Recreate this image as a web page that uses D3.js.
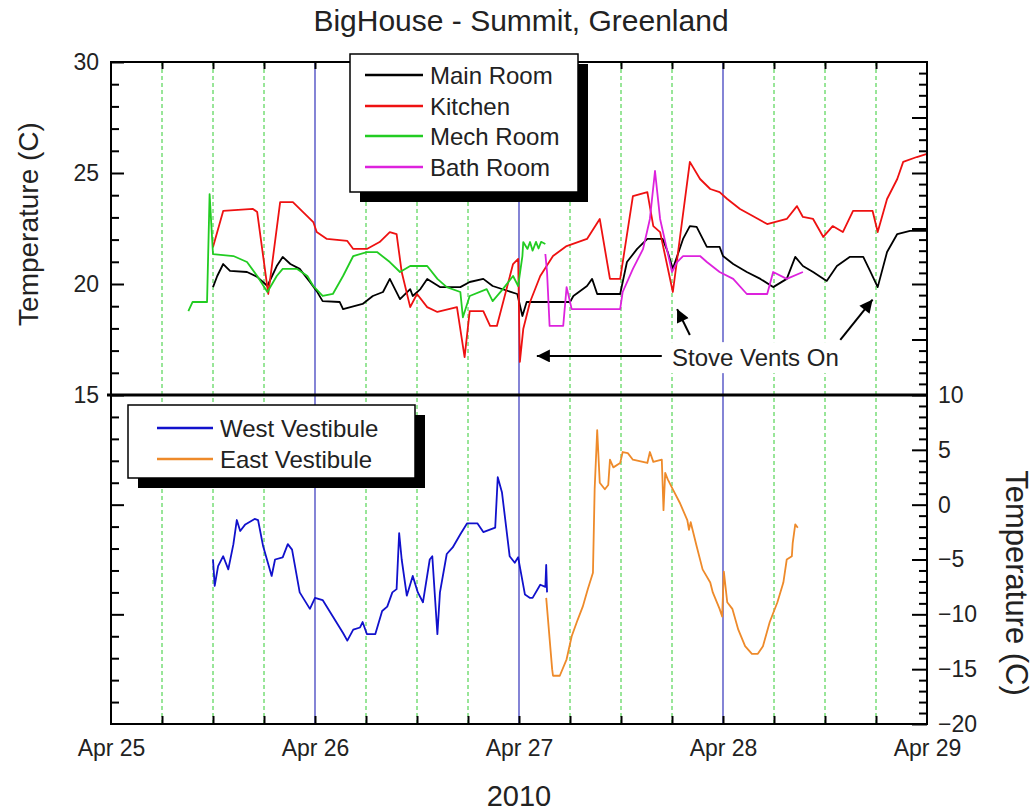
<!DOCTYPE html>
<html><head><meta charset="utf-8">
<script src="https://cdn.jsdelivr.net/npm/d3@7/dist/d3.min.js"></script>
<style>
body{margin:0;background:#fff;}
svg{display:block;font-family:"Liberation Sans",Arial,sans-serif;}
</style></head>
<body><svg id="chart" width="1033" height="811"></svg>
<script>
// ---------- DATA (hours since Apr 25 2010 00:00, temperature °C) ----------
const mainHours = [12.0,12.5,13.2,14.0,16.0,17.2,18.4,19.5,20.2,21.1,22.2,23.4,24.2,24.9,26.9,27.3,29.6,30.8,32.0,32.8,34.0,35.2,35.5,36.4,37.2,38.7,41.1,42.2,43.8,44.9,47.8,48.4,48.9,54.0,54.4,56.0,56.6,57.2,59.9,60.7,61.9,63.1,64.9,65.5,66.1,67.3,68.1,68.9,70.1,71.6,72.0,73.2,74.8,76.4,77.9,79.5,80.5,81.4,82.6,84.2,85.4,86.9,88.5,89.3,90.2,91.3,92.5,94.0,96.0];
const mainTemp  = [19.86,20.36,20.9,20.59,20.54,20.32,19.91,20.81,21.22,20.9,20.68,20.09,19.68,19.23,19.19,18.87,19.1,19.46,19.64,20.23,19.32,19.77,19.46,19.77,20.23,19.86,19.86,20.09,20.23,19.91,19.55,18.56,19.19,19.19,19.46,19.91,20.23,19.55,19.55,20.99,21.58,22.03,22.03,21.44,20.68,22.03,22.61,22.57,21.67,21.67,21.26,20.9,20.54,20.23,19.86,20.23,21.22,20.81,20.54,20.14,20.81,21.22,21.22,20.59,19.86,21.44,22.25,22.39,22.39];

const kitchenHours = [12.0,13.2,16.7,17.2,18.5,19.9,21.4,22.6,23.8,24.2,25.4,27.8,28.5,30.1,31.6,32.8,33.6,34.2,35.2,36.0,37.2,38.4,40.7,41.6,42.2,43.8,44.6,45.4,47.3,47.9,48.1,48.5,49.3,50.5,52.0,53.6,56.0,57.5,58.7,59.9,61.4,63.1,63.8,64.6,66.1,68.1,69.3,70.5,71.6,72.5,74.0,75.5,77.2,79.5,80.7,81.4,82.6,83.8,84.9,86.1,87.3,89.6,90.2,91.3,92.5,93.2,94.8,96.0];
const kitchenTemp  = [21.67,23.29,23.38,23.24,19.55,23.69,23.69,23.24,22.79,22.34,22.03,21.94,21.58,21.58,21.89,22.34,22.25,20.54,18.96,19.55,18.96,18.74,18.96,16.71,18.78,18.78,18.11,18.11,20.9,21.13,16.49,17.97,19.19,20.36,21.26,21.71,22.03,22.93,20.23,20.23,23.96,24.14,22.61,22.34,19.64,25.5,24.73,24.28,24.14,23.83,23.38,23.06,22.7,22.93,23.51,23.02,22.93,22.12,22.61,22.34,23.29,23.29,22.34,23.83,24.73,25.5,25.72,25.86];

const mechHours = [9.1,9.6,11.3,11.6,12.0,14.4,16.0,17.2,18.4,19.5,20.2,21.9,23.1,23.8,24.9,26.1,27.3,28.5,30.1,31.3,32.8,34.0,35.2,37.2,38.4,39.5,41.1,41.4,42.2,44.2,44.9,46.1,47.3,47.9,48.4,48.5,49.0,49.3,49.6,50.0,50.3,50.6,51.1];
const mechTemp  = [18.78,19.19,19.19,24.05,21.35,21.26,20.99,20.36,19.64,20.36,20.68,20.68,20.36,19.91,19.46,19.55,20.36,21.26,21.44,21.44,20.99,20.54,20.81,20.81,20.23,19.86,19.64,18.5,19.46,19.77,19.23,19.77,20.36,19.91,21.26,21.89,21.58,21.89,21.5,21.9,21.6,21.9,21.8];

const bathHours = [51.1,51.3,51.6,53.2,53.6,54.2,59.9,60.2,61.4,62.6,63.4,64.0,64.6,66.0,66.6,67.3,69.3,70.1,71.6,73.2,74.8,77.2,77.9,79.5,81.4];
const bathTemp  = [21.35,20.54,18.11,18.11,19.86,18.87,18.87,19.64,20.68,21.58,22.93,25.09,22.93,20.54,20.99,21.26,21.26,20.99,20.54,20.23,19.55,19.55,20.54,20.23,20.54];

const westHours = [12.0,12.2,12.6,13.2,13.8,14.4,14.8,15.2,15.8,16.9,17.3,17.9,18.9,19.3,20.2,20.8,21.3,22.2,23.4,24.0,24.9,26.1,27.3,27.8,28.5,29.3,29.6,30.1,31.1,31.9,32.5,33.1,33.6,33.9,34.2,34.8,35.5,36.1,36.7,37.5,37.8,38.4,38.7,39.5,40.2,41.1,41.9,43.1,43.8,45.2,45.5,46.0,46.9,47.5,47.9,48.7,49.3,49.6,50.5,51.1,51.2,51.3];
const westTemp  = [-5.0,-7.4,-5.6,-4.7,-5.9,-3.6,-1.4,-2.4,-1.8,-1.3,-1.4,-3.8,-6.5,-5.0,-4.8,-3.6,-4.1,-8.0,-9.5,-8.5,-8.7,-10.2,-11.7,-12.4,-11.4,-11.2,-10.7,-11.8,-11.8,-9.7,-9.3,-8.0,-7.7,-2.6,-5.0,-8.3,-6.5,-8.0,-8.9,-5.0,-4.7,-11.8,-8.0,-4.5,-3.9,-2.7,-1.7,-1.7,-2.5,-2.1,2.5,1.1,-4.7,-5.3,-4.8,-8.2,-8.5,-8.5,-7.3,-7.5,-5.5,-8.0];

const eastHours = [51.2,51.9,52.0,52.8,53.6,54.2,54.9,55.5,56.1,56.7,56.9,57.2,57.5,58.1,58.5,58.7,59.1,59.9,60.2,60.8,61.4,63.1,63.4,63.8,64.8,65.0,65.2,65.5,66.1,66.9,67.8,68.0,68.2,68.9,69.6,70.5,70.8,71.6,71.9,72.1,72.5,73.1,73.8,74.6,75.4,76.1,76.7,77.5,78.4,79.1,79.5,80.1,80.2,80.5,80.8];
const eastTemp  = [-8.5,-15.0,-15.6,-15.6,-14.1,-12.0,-10.5,-9.3,-7.7,-6.2,1.4,6.8,2.0,1.4,1.8,4.1,3.4,3.8,4.8,4.7,4.1,3.8,4.8,3.9,4.1,-0.5,2.9,2.3,1.4,0.2,-1.4,-2.3,-1.6,-3.8,-5.9,-7.1,-8.0,-9.5,-10.2,-6.1,-8.9,-9.5,-11.4,-12.9,-13.6,-13.6,-12.9,-10.7,-8.9,-7.1,-5.0,-4.7,-3.5,-1.8,-2.1];

const topSeries = [
  {name:"Main Room", hours:mainHours, temp:mainTemp, color:"#000000"},
  {name:"Kitchen", hours:kitchenHours, temp:kitchenTemp, color:"#ee1111"},
  {name:"Mech Room", hours:mechHours, temp:mechTemp, color:"#22cc22"},
  {name:"Bath Room", hours:bathHours, temp:bathTemp, color:"#dd22dd"}
];
const botSeries = [
  {name:"West Vestibule", hours:westHours, temp:westTemp, color:"#1111cc"},
  {name:"East Vestibule", hours:eastHours, temp:eastTemp, color:"#ee8a2a"}
];
const dayTicks = ["2010-04-25","2010-04-26","2010-04-27","2010-04-28","2010-04-29"];
const topLeftTicks = [15,20,25,30];
const botRightTicks = [-20,-15,-10,-5,0,5,10];
const title = "BigHouse - Summit, Greenland";
const xTitle = "2010";
const yTitle = "Temperature (C)";
const annotation = {text:"Stove Vents On", hour:66.0, temp:16.3,
  arrows:[{from:[64.8,16.76], to:[50.1,16.76]},{from:[68.1,17.7], to:[66.6,18.87]},{from:[85.8,17.48], to:[89.6,19.3]}]};

// ---------- LAYOUT ----------
const L=111, R=927, T=62, M=395, B=724;
const t0 = new Date(2010,3,25,0,0,0);
const hd = h => new Date(t0.getTime()+h*3600e3);
const x = d3.scaleTime().domain([new Date(2010,3,25), new Date(2010,3,29)]).range([L,R]);
const yTop = d3.scaleLinear().domain([15,30]).range([M,T]);
const yBot = d3.scaleLinear().domain([-20,10]).range([B,M]);
const svg = d3.select("#chart");
const textCol = "#222";

// grid verticals
const sixH = d3.range(6,96,6);
svg.append("g").selectAll("line").data(sixH).join("line")
  .attr("x1",d=>x(hd(d))).attr("x2",d=>x(hd(d))).attr("y1",T).attr("y2",B)
  .attr("stroke",d=>d%24===0?"#3333bb":"#33cc33")
  .attr("stroke-width",d=>d%24===0?1.2:1)
  .attr("stroke-dasharray",d=>d%24===0?null:"4,3");

// lines
const lineTop = d3.line().x(d=>x(hd(d[0]))).y(d=>yTop(d[1]));
const lineBot = d3.line().x(d=>x(hd(d[0]))).y(d=>yBot(d[1]));
topSeries.forEach(s=>{
  svg.append("path").datum(s.hours.map((h,i)=>[h,s.temp[i]]))
    .attr("d",lineTop).attr("fill","none").attr("stroke",s.color).attr("stroke-width",1.8).attr("stroke-linejoin","round");
});
botSeries.forEach(s=>{
  svg.append("path").datum(s.hours.map((h,i)=>[h,s.temp[i]]))
    .attr("d",lineBot).attr("fill","none").attr("stroke",s.color).attr("stroke-width",1.8).attr("stroke-linejoin","round");
});

// annotation
const defs = svg.append("defs");
defs.append("marker").attr("id","ah").attr("viewBox","0 0 10 10").attr("refX",10).attr("refY",5)
  .attr("markerUnits","userSpaceOnUse").attr("markerWidth",20).attr("markerHeight",13).attr("orient","auto")
  .append("path").attr("d","M0,0 L10,5 L0,10 z").attr("fill","#000");
const at = svg.append("text").attr("x",x(hd(annotation.hour))).attr("y",yTop(annotation.temp))
  .attr("font-size",24).attr("fill",textCol).text(annotation.text);
const bb = at.node().getBBox();
svg.insert("rect","text").attr("x",bb.x-8).attr("y",bb.y-2).attr("width",bb.width+12).attr("height",bb.height+4).attr("fill","#fff");
at.raise();
annotation.arrows.forEach(a=>{
  svg.append("line").attr("x1",x(hd(a.from[0]))).attr("y1",yTop(a.from[1]))
    .attr("x2",x(hd(a.to[0]))).attr("y2",yTop(a.to[1]))
    .attr("stroke","#000").attr("stroke-width",2).attr("marker-end","url(#ah)");
});

// axes
function styleAxis(g){ g.select(".domain").remove(); g.selectAll(".tick line").attr("stroke","#000").attr("stroke-width",2); g.selectAll("text").attr("fill",textCol).attr("font-size",23).attr("font-family","Liberation Sans, Arial, sans-serif"); }
svg.append("g").attr("transform",`translate(${L},0)`).call(d3.axisLeft(yTop).tickValues(d3.range(15,31,1).filter(v=>v%5)).tickSize(-8).tickFormat("")).call(styleAxis);
svg.append("g").attr("transform",`translate(${L},0)`).call(d3.axisLeft(yTop).tickValues(topLeftTicks).tickSize(-13).tickPadding(12).tickFormat(d3.format("d"))).call(styleAxis);
svg.append("g").attr("transform",`translate(${L},0)`).call(d3.axisLeft(yBot).tickValues(d3.range(-18,10,2).filter(v=>v%10)).tickSize(-8).tickFormat("")).call(styleAxis);
svg.append("g").attr("transform",`translate(${L},0)`).call(d3.axisLeft(yBot).tickValues([0,-10]).tickSize(-13).tickFormat("")).call(styleAxis);
svg.append("g").attr("transform",`translate(${R},0)`).call(d3.axisRight(yTop).tickValues(d3.range(15.5,30,0.5).filter(v=>v%2.5)).tickSize(-8).tickFormat("")).call(styleAxis);
svg.append("g").attr("transform",`translate(${R},0)`).call(d3.axisRight(yTop).tickValues([17.5,20,22.5,25,27.5]).tickSize(-15).tickFormat("")).call(styleAxis);
svg.append("g").attr("transform",`translate(${R},0)`).call(d3.axisRight(yBot).tickValues(d3.range(-19,10,1).filter(v=>v%5)).tickSize(-8).tickFormat("")).call(styleAxis);
svg.append("g").attr("transform",`translate(${R},0)`).call(d3.axisRight(yBot).tickValues(botRightTicks).tickSize(-15).tickPadding(11).tickFormat(d3.format("d"))).call(styleAxis);
const sixDates = sixH.map(hd);
svg.append("g").attr("transform",`translate(0,${T})`).call(d3.axisTop(x).tickValues(sixDates).tickSize(-7).tickFormat("")).call(styleAxis);
svg.append("g").attr("transform",`translate(0,${B})`).call(d3.axisBottom(x).tickValues(sixDates).tickSize(-8).tickFormat("")).call(styleAxis);
svg.append("g").attr("transform",`translate(0,${B})`).call(d3.axisBottom(x).tickValues(dayTicks.map(d=>d3.timeParse("%Y-%m-%d")(d))).tickSize(0).tickPadding(16).tickFormat(d3.timeFormat("%b %d"))).call(styleAxis);

// frame & separator
svg.append("rect").attr("x",L).attr("y",T).attr("width",R-L).attr("height",B-T).attr("fill","none").attr("stroke","#000").attr("stroke-width",2);
svg.append("line").attr("x1",L-4).attr("x2",R).attr("y1",M).attr("y2",M).attr("stroke","#000").attr("stroke-width",3);

// legends
function legend(items, bx, by, bw, bh, rowY, lx1, lx2, tx){
  svg.append("rect").attr("x",bx+10).attr("y",by+10).attr("width",bw).attr("height",bh).attr("fill","#000");
  svg.append("rect").attr("x",bx).attr("y",by).attr("width",bw).attr("height",bh).attr("fill","#fff").attr("stroke","#000").attr("stroke-width",1.5);
  items.forEach((s,i)=>{
    svg.append("line").attr("x1",lx1).attr("x2",lx2).attr("y1",rowY[i]).attr("y2",rowY[i]).attr("stroke",s.color).attr("stroke-width",2.5);
    svg.append("text").attr("x",tx).attr("y",rowY[i]).attr("dy","0.36em").attr("font-size",24).attr("fill",textCol).text(s.name);
  });
}
legend(topSeries, 350, 54, 228, 138, [75,106,136,167], 365, 423, 430);
legend(botSeries, 128, 405, 287, 73, [428,459], 157, 213, 220);

// titles
svg.append("text").attr("x",521).attr("y",31).attr("text-anchor","middle").attr("font-size",30).attr("fill",textCol).text(title);
svg.append("text").attr("x",519).attr("y",806).attr("text-anchor","middle").attr("font-size",29).attr("fill",textCol).text(xTitle);
svg.append("text").attr("transform","translate(38,224) rotate(-90)").attr("text-anchor","middle").attr("font-size",28).attr("fill",textCol).text(yTitle);
svg.append("text").attr("transform","translate(1006,583) rotate(90)").attr("text-anchor","middle").attr("font-size",31).attr("fill",textCol).text(yTitle);
</script></body></html>
